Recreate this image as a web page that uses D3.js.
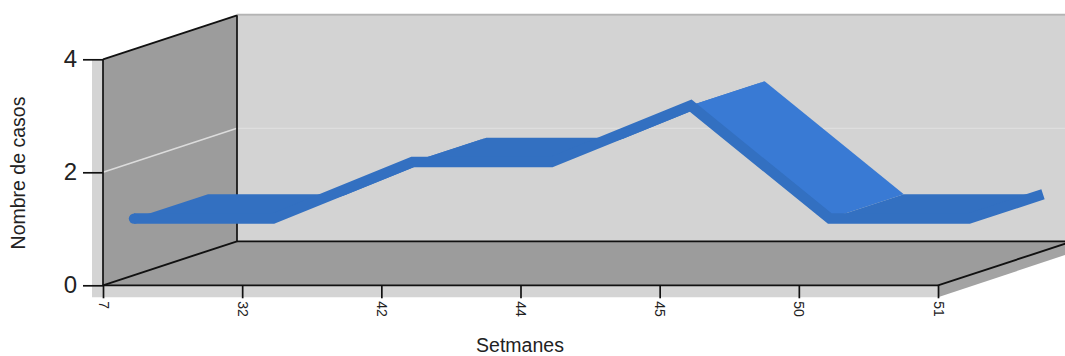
<!DOCTYPE html>
<html><head><meta charset="utf-8">
<script src="https://cdnjs.cloudflare.com/ajax/libs/d3/7.8.5/d3.min.js"></script>
<style>html,body{margin:0;padding:0;background:#fff;overflow:hidden}svg{display:block}text{font-family:"Liberation Sans",Arial,sans-serif;fill:#222}</style>
</head><body><svg id="c" width="1065" height="356"></svg>
<script>
const weeks = ["7","32","42","44","45","50","51"];
const cases = [1,1,2,2,3,1,1];
const yTicks = [0,2,4];
const yTitle = "Nombre de casos";
const xTitle = "Setmanes";

const svg = d3.select("#c");
const x = d3.scalePoint().domain(weeks).range([103,938]);
const y = d3.scaleLinear().domain([0,4]).range([285.3,59.3]);
const depth = {x:134,y:-44};
const front = {x:31,y:-10.2};
const back = {x:105,y:-34.6};
const F = d => [x(d.w)+front.x, y(d.v)+front.y];
const B = d => [x(d.w)+back.x, y(d.v)+back.y];
const pts = weeks.map((w,i)=>({w,v:cases[i]}));
const X0=x.range()[0], X1=x.range()[1], Y0=y(0), Y4=y(4);
const line = d3.line();
const poly = (p,fill)=>svg.append("path").attr("d",line(p)+"Z").attr("fill",fill);
const seg = (a,b,c,w)=>svg.append("line").attr("x1",a[0]).attr("y1",a[1]).attr("x2",b[0]).attr("y2",b[1]).attr("stroke",c).attr("stroke-width",w);

// outer light band and shadow
poly([[X0-11,Y4],[X0,Y4],[X0,Y0],[X1,Y0],[X1,Y0+12],[X0-11,Y0+12]],"#d4d4d4");
poly([[X1,Y0],[X1+depth.x+10,Y0+depth.y-3],[X1+depth.x+10,Y0+depth.y+8],[X1,Y0+12]],"#a3a3a3");
// back wall
poly([[X0+depth.x,Y4+depth.y],[1065,Y4+depth.y],[1065,Y0+depth.y],[X0+depth.x,Y0+depth.y]],"#d3d3d3");
seg([X0+depth.x,Y4+depth.y-0.5],[1065,Y4+depth.y-0.5],"#b4b4b4",2);
// side wall & floor
poly([[X0,Y4],[X0+depth.x,Y4+depth.y],[X0+depth.x,Y0+depth.y],[X0,Y0]],"#9c9c9c");
poly([[X0,Y0],[X0+depth.x,Y0+depth.y],[X1+depth.x+10,Y0+depth.y],[X1+depth.x+10,Y0+depth.y-3],[X1,Y0]],"#9c9c9c");
// gridline
seg([X0,y(2)],[X0+depth.x,y(2)+depth.y],"#dcdcdc",1.5);
seg([X0+depth.x,y(2)+depth.y],[1065,y(2)+depth.y],"#dedede",1.2);
// frame
const k="#111";
seg([X0,Y4],[X0+depth.x,Y4+depth.y],k,1.9);
seg([X0+depth.x,Y4+depth.y],[X0+depth.x,Y0+depth.y],k,1.7);
seg([X0,Y4],[X0,Y0],k,1.7);
seg([X0,Y0],[X0+depth.x,Y0+depth.y],k,1.9);
seg([X0+depth.x,Y0+depth.y],[1065,Y0+depth.y],k,1.7);
seg([X0,Y0],[X1,Y0],k,1.7);
seg([X1,Y0],[X1+depth.x+10,Y0+depth.y-3],k,1.9);

// ribbon surface
const dark="#3370c1", light="#397ad4";
d3.pairs(pts).forEach(([a,b])=>{
  poly([F(a),F(b),B(b),B(a)], b.v<a.v ? light : dark);
});
svg.append("path")
  .attr("d",line([...pts.map(F),B(pts[pts.length-1])]))
  .attr("fill","none").attr("stroke",dark).attr("stroke-width",10.5)
  .attr("stroke-linejoin","miter").attr("stroke-miterlimit",3);
svg.append("circle").attr("cx",F(pts[0])[0]).attr("cy",F(pts[0])[1]).attr("r",5.2).attr("fill",dark);

// axes
const gy=svg.append("g").attr("transform",`translate(${X0},0)`)
  .call(d3.axisLeft(y).tickValues(yTicks).tickSize(20).tickPadding(6).tickFormat(d3.format("d")));
gy.select(".domain").remove();
gy.selectAll("line").attr("stroke",k).attr("stroke-width",1.7);
gy.selectAll("text").attr("font-size",24).attr("fill","#222").style("font-family",'"Liberation Sans",Arial,sans-serif');
const gx=svg.append("g").attr("transform",`translate(0,${Y0})`)
  .call(d3.axisBottom(x).tickSize(13).tickPadding(0));
gx.select(".domain").remove();
gx.selectAll("line").attr("stroke",k).attr("stroke-width",1.7);
gx.selectAll("text").attr("font-size",14).attr("fill","#222").attr("text-anchor","start").attr("dy",0)
  .attr("y",0).attr("x",0)
  .attr("transform","translate(-5,16) rotate(90)")
  .style("font-family",'"Liberation Sans",Arial,sans-serif');

svg.append("text").attr("x",520).attr("y",352).attr("text-anchor","middle").attr("font-size",19.5).text(xTitle);
svg.append("text").attr("transform","translate(25,173) rotate(-90)").attr("text-anchor","middle").attr("font-size",19.5).text(yTitle);
</script></body></html>
